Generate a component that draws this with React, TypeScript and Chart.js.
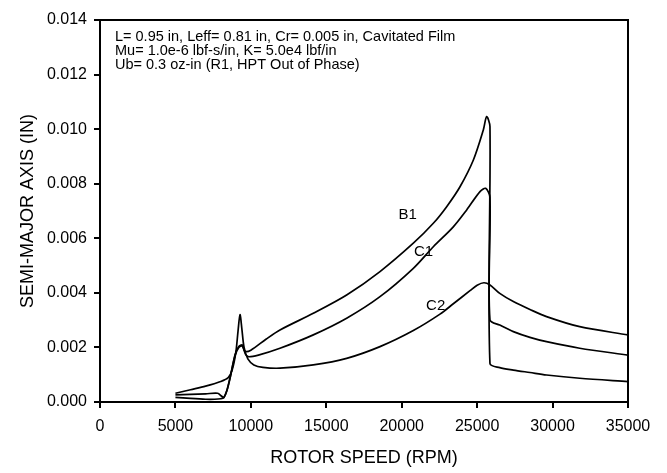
import React, { useEffect, useRef } from "react";
import { Chart, registerables } from "chart.js";

Chart.register(...registerables);

// ---- data ----
const RPM_B1 = [5000, 6000, 7000, 7800, 8050, 8200, 8400, 8620, 8950, 9200, 9430, 9610, 10000, 11000, 11930, 14140, 16350, 18560, 20770, 22095, 22980, 23864, 24750, 25410, 25630, 25850, 25850, 26500, 27400, 28500, 29600, 31800, 35000];
const VAL_B1 = [0.00026, 0.00028, 0.0003, 0.00032, 0.00022, 0.00016, 0.0004, 0.00088, 0.00172, 0.00203, 0.00209, 0.00186, 0.0019, 0.0023, 0.00264, 0.00325, 0.00392, 0.00478, 0.00582, 0.00655, 0.00716, 0.00789, 0.00887, 0.00997, 0.01046, 0.0101, 0.00141, 0.00126, 0.00117, 0.00108, 0.00099, 0.00087, 0.00075];

const RPM_C1 = [5000, 6000, 7000, 7600, 8000, 8200, 8400, 8620, 8950, 9200, 9430, 9650, 9830, 10500, 11930, 14140, 16350, 18560, 20770, 22095, 23420, 24307, 25189, 25565, 25850, 25850, 26500, 27400, 28500, 29600, 31800, 35000];
const VAL_C1 = [0.00017, 0.00013, 0.0001, 0.0001, 0.00012, 0.00016, 0.0004, 0.00088, 0.0017, 0.002, 0.00205, 0.00175, 0.00166, 0.00172, 0.00197, 0.00246, 0.00307, 0.00386, 0.0049, 0.00569, 0.00642, 0.00704, 0.00771, 0.00783, 0.0075, 0.00301, 0.00282, 0.00258, 0.00237, 0.00221, 0.00197, 0.00172];

const RPM_C2 = [5000, 6000, 7000, 8000, 8500, 8750, 9000, 9150, 9280, 9400, 9550, 9800, 10200, 10800, 11930, 14140, 16350, 18560, 20770, 22538, 23420, 24526, 25000, 25450, 25850, 26500, 27400, 28500, 29600, 31800, 35000];
const VAL_C2 = [0.00032, 0.00045, 0.00058, 0.00075, 0.00089, 0.00115, 0.0018, 0.0026, 0.0032, 0.0027, 0.002, 0.00158, 0.00136, 0.00127, 0.00124, 0.00136, 0.0016, 0.00203, 0.00262, 0.00322, 0.0036, 0.00408, 0.00428, 0.00437, 0.00429, 0.00398, 0.00368, 0.00339, 0.00313, 0.00276, 0.00246];

const SERIES_NAMES = ["B1", "C1", "C2"];
const LABEL_RPM = [20400, 21450, 22250];
const LABEL_VAL = [0.00685, 0.00552, 0.00352];

const X_MIN = 0;
const X_MAX = 35000;
const X_STEP = 5000;
const Y_MIN = 0;
const Y_MAX = 0.014;
const Y_STEP = 0.002;

const X_TITLE = "ROTOR SPEED (RPM)";
const Y_TITLE = "SEMI-MAJOR AXIS (IN)";
const NOTE_LINES = [
  "L= 0.95 in, Leff= 0.81 in, Cr= 0.005 in, Cavitated Film",
  "Mu= 1.0e-6 lbf-s/in, K= 5.0e4 lbf/in",
  "Ub= 0.3 oz-in (R1, HPT Out of Phase)",
];

const FONT = "'Liberation Sans', Arial, sans-serif";

function pts(xs: number[], ys: number[]) {
  return xs.map((x, i) => ({ x, y: ys[i] }));
}

const framePlugin = {
  id: "frameAndNotes",
  afterDraw(chart: any) {
    const { ctx, chartArea, scales } = chart;
    ctx.save();
    ctx.strokeStyle = "#000";
    ctx.lineWidth = 2;
    ctx.beginPath();
    ctx.moveTo(chartArea.left, chartArea.top);
    ctx.lineTo(chartArea.right, chartArea.top);
    ctx.lineTo(chartArea.right, chartArea.bottom);
    ctx.stroke();

    ctx.fillStyle = "#000";
    ctx.font = `14.5px ${FONT}`;
    ctx.textAlign = "left";
    ctx.textBaseline = "middle";
    NOTE_LINES.forEach((t, i) => {
      ctx.fillText(t, chartArea.left + 15, chartArea.top + 17 + i * 14);
    });

    ctx.font = `15px ${FONT}`;
    ctx.textAlign = "center";
    SERIES_NAMES.forEach((n, i) => {
      const px = scales.x.getPixelForValue(LABEL_RPM[i]);
      const py = scales.y.getPixelForValue(LABEL_VAL[i]);
      ctx.fillText(n, px, py);
    });
    ctx.restore();
  },
};

export default function App() {
  const ref = useRef<HTMLCanvasElement | null>(null);

  useEffect(() => {
    if (!ref.current) return;
    const line = (name: string, xs: number[], ys: number[]) => ({
      label: name,
      data: pts(xs, ys),
      borderColor: "#000",
      borderWidth: 1.7,
      pointRadius: 0,
      fill: false,
      tension: 0.3,
    });
    const chart = new Chart(ref.current, {
      type: "line",
      data: {
        datasets: [
          line("B1", RPM_B1, VAL_B1),
          line("C1", RPM_C1, VAL_C1),
          line("C2", RPM_C2, VAL_C2),
        ],
      },
      options: {
        animation: false,
        responsive: false,
        parsing: false as any,
        layout: { padding: { top: 20, right: 39, left: 0, bottom: 0 } },
        plugins: {
          legend: { display: false },
          tooltip: { enabled: false },
        },
        scales: {
          x: {
            type: "linear",
            min: X_MIN,
            max: X_MAX,
            afterFit: (s: any) => {
              s.height = 71;
            },
            ticks: {
              stepSize: X_STEP,
              color: "#000",
              font: { family: FONT, size: 16 },
              padding: 9,
              maxRotation: 0,
              callback: (v: any) => String(v),
            },
            grid: {
              display: true,
              drawOnChartArea: false,
              drawTicks: true,
              tickLength: 6,
              color: "#000",
              lineWidth: 2,
            },
            border: { display: true, color: "#000", width: 2 },
            title: {
              display: true,
              text: X_TITLE,
              color: "#000",
              font: { family: FONT, size: 18 },
              padding: { top: 0, bottom: 4 },
            },
          },
          y: {
            type: "linear",
            min: Y_MIN,
            max: Y_MAX,
            afterFit: (s: any) => {
              s.width = 100;
            },
            ticks: {
              stepSize: Y_STEP,
              color: "#000",
              font: { family: FONT, size: 16 },
              padding: 7,
              callback: (v: any) => Number(v).toFixed(3),
            },
            grid: {
              display: true,
              drawOnChartArea: false,
              drawTicks: true,
              tickLength: 6,
              color: "#000",
              lineWidth: 2,
            },
            border: { display: true, color: "#000", width: 2 },
            title: {
              display: true,
              text: Y_TITLE,
              color: "#000",
              font: { family: FONT, size: 18 },
              padding: { top: 17, bottom: 0 },
            },
          },
        },
      },
      plugins: [framePlugin],
    });
    return () => chart.destroy();
  }, []);

  return (
    <div style={{ position: "absolute", left: 0, top: 0, width: 667, height: 473, background: "#fff" }}>
      <canvas ref={ref} width={667} height={473} style={{ display: "block" }} />
    </div>
  );
}
